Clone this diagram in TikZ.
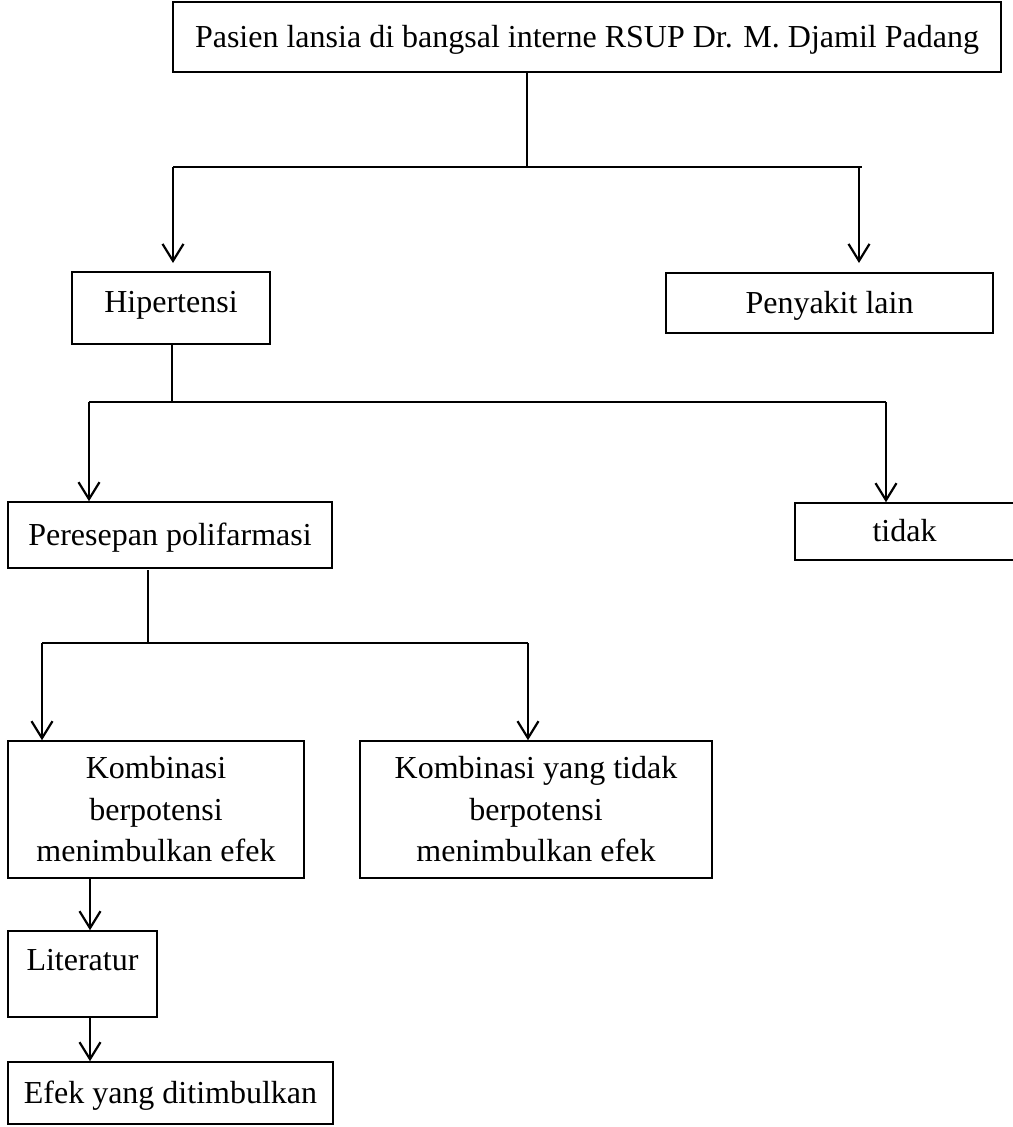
\documentclass[tikz,border=0pt]{standalone}
\usepackage{fontspec}
\setmainfont{Liberation Serif}
\usetikzlibrary{arrows.meta}
\begin{document}
\begin{tikzpicture}[x=1pt,y=-1pt,
  box/.style={draw,line width=1.5pt,inner sep=0pt,align=center,
    text height=24.4pt,text depth=4.4pt,
    font=\fontsize{32}{41.5}\selectfont},
  multi/.style={draw,line width=1.5pt,inner sep=0pt,align=center,
    font=\fontsize{32}{41.5}\selectfont},
  txt/.style={inner sep=0pt,font=\fontsize{32}{41.5}\selectfont},
  conn/.style={line width=2pt},
  arr/.style={line width=2pt,-{Straight Barb[length=17pt,width=21pt,line width=2.2pt]}}]
\useasboundingbox[fill=white] (0,0) rectangle (1012,1127);
% boxes
\node[box,minimum width=828pt,minimum height=70pt] (top) at (587,37) {Pasien lansia di bangsal interne RSUP Dr. M. Djamil Padang};
\node[box,minimum width=198pt,minimum height=72pt] (hip) at (171,308) {\raisebox{5.5pt}{Hipertensi}};
\node[box,minimum width=327pt,minimum height=60pt] (pen) at (829.5,303) {Penyakit lain};
\node[box,minimum width=324pt,minimum height=66pt] (pres) at (170,535) {Peresepan polifarmasi};
\node[box,minimum width=219pt,minimum height=57pt] (tdk) at (904.5,531.5) {tidak};
\node[multi,minimum width=296pt,minimum height=137pt] (k1) at (156,809.5) {Kombinasi\\berpotensi\\menimbulkan efek};
\node[multi,minimum width=352pt,minimum height=137pt] (k2) at (536,809.5) {Kombinasi yang tidak\\berpotensi\\menimbulkan efek};
\node[multi,minimum width=149pt,minimum height=86pt] (lit) at (82.5,974) {};
\node[txt,anchor=base] (littxt) at (82.5,970) {Literatur};
\node[box,minimum width=325pt,minimum height=62pt] (efek) at (170.5,1093) {Efek yang ditimbulkan};
% level 1
\coordinate (j1) at (527,167);
\coordinate (j1L) at (173,167);
\coordinate (j1R) at (862,167);
\coordinate (j1Rd) at (859,167);
\coordinate (a1) at (173,263);
\coordinate (a2) at (859,263);
\draw[conn] (top.south -| j1) -- (j1);
\draw[conn] (j1L) -- (j1R);
\draw[arr] (j1L) -- (a1);
\draw[arr] (j1Rd) -- (a2);
% level 2
\coordinate (j2) at (172,402);
\coordinate (j2L) at (89,402);
\coordinate (j2R) at (886,402);
\draw[conn] (hip.south -| j2) -- (j2);
\draw[conn] (j2L) -- (j2R);
\draw[arr] (j2L) -- (pres.north -| j2L);
\draw[arr] (j2R) -- (tdk.north -| j2R);
% level 3
\coordinate (j3s) at (148,570);
\coordinate (j3) at (148,643);
\coordinate (j3L) at (42,643);
\coordinate (j3R) at (528,643);
\draw[conn] (j3s) -- (j3);
\draw[conn] (j3L) -- (j3R);
\draw[arr] (j3L) -- (k1.north -| j3L);
\draw[arr] (j3R) -- (k2.north -| j3R);
% chain
\coordinate (c1) at (90,0);
\draw[arr] (k1.south -| c1) -- (lit.north -| c1);
\draw[arr] (lit.south -| c1) -- (efek.north -| c1);
\end{tikzpicture}
\end{document}
